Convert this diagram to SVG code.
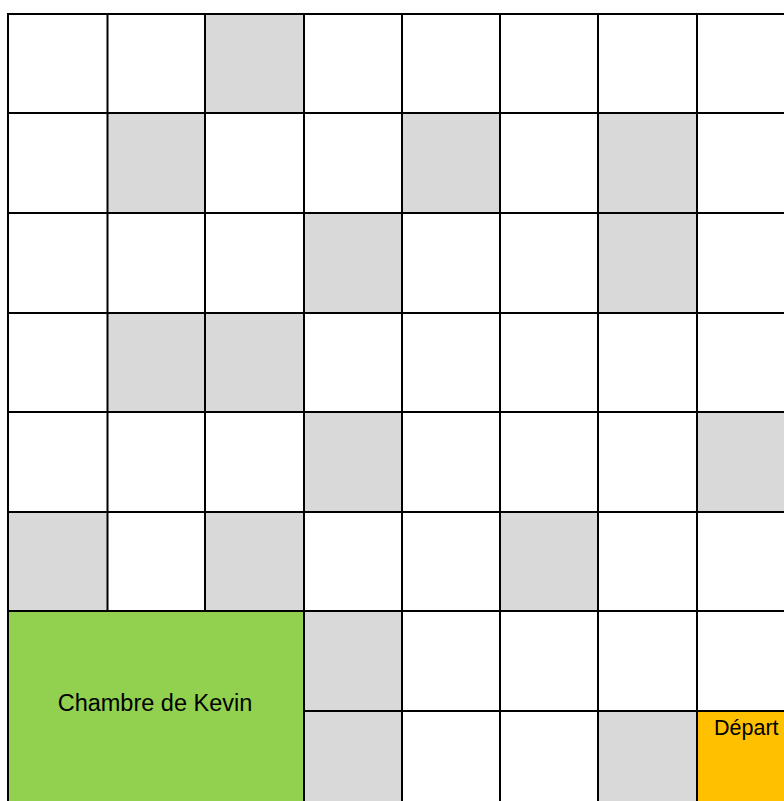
<svg xmlns="http://www.w3.org/2000/svg" width="784" height="801" viewBox="0 0 784 801">
  <style>
    .g { fill: #D9D9D9; }
    .ln { stroke: #000; stroke-width: 2; fill: none; }
    .lbl { font-family: "Liberation Sans", Arial, sans-serif; fill: #000; }
  </style>
  <rect x="0" y="0" width="784" height="801" fill="#fff"/>
  <g id="gray-cells">
    <rect class="g" x="205" y="14" width="99" height="99"/>
    <rect class="g" x="107.5" y="113" width="97.5" height="100"/>
    <rect class="g" x="402" y="113" width="98" height="100"/>
    <rect class="g" x="598" y="113" width="99" height="100"/>
    <rect class="g" x="304" y="213" width="98" height="100"/>
    <rect class="g" x="598" y="213" width="99" height="100"/>
    <rect class="g" x="107.5" y="313" width="97.5" height="99"/>
    <rect class="g" x="205" y="313" width="99" height="99"/>
    <rect class="g" x="304" y="412" width="98" height="100"/>
    <rect class="g" x="697" y="412" width="87" height="100"/>
    <rect class="g" x="8" y="512" width="99.5" height="99"/>
    <rect class="g" x="205" y="512" width="99" height="99"/>
    <rect class="g" x="500" y="512" width="98" height="99"/>
    <rect class="g" x="304" y="611" width="98" height="100"/>
    <rect class="g" x="304" y="711" width="98" height="90"/>
    <rect class="g" x="598" y="711" width="99" height="90"/>
  </g>
  <g id="chambre">
    <rect x="8" y="611" width="296" height="190" fill="#92D050"/>
    <text class="lbl" x="155" y="711" font-size="23.5" text-anchor="middle">Chambre de Kevin</text>
  </g>
  <g id="depart">
    <rect x="697" y="711" width="87" height="90" fill="#FFC000"/>
    <text class="lbl" x="714" y="735" font-size="21.5">Départ</text>
  </g>
  <g id="grid-lines" class="ln">
    <path d="M8 13V801"/>
    <path d="M107.5 13V612"/>
    <path d="M205 13V612"/>
    <path d="M304 13V801"/>
    <path d="M402 13V801"/>
    <path d="M500 13V801"/>
    <path d="M598 13V801"/>
    <path d="M697 13V801"/>
    <path d="M7 14H784"/>
    <path d="M7 113H784"/>
    <path d="M7 213H784"/>
    <path d="M7 313H784"/>
    <path d="M7 412H784"/>
    <path d="M7 512H784"/>
    <path d="M7 611H784"/>
    <path d="M303 711H784"/>
  </g>
</svg>
